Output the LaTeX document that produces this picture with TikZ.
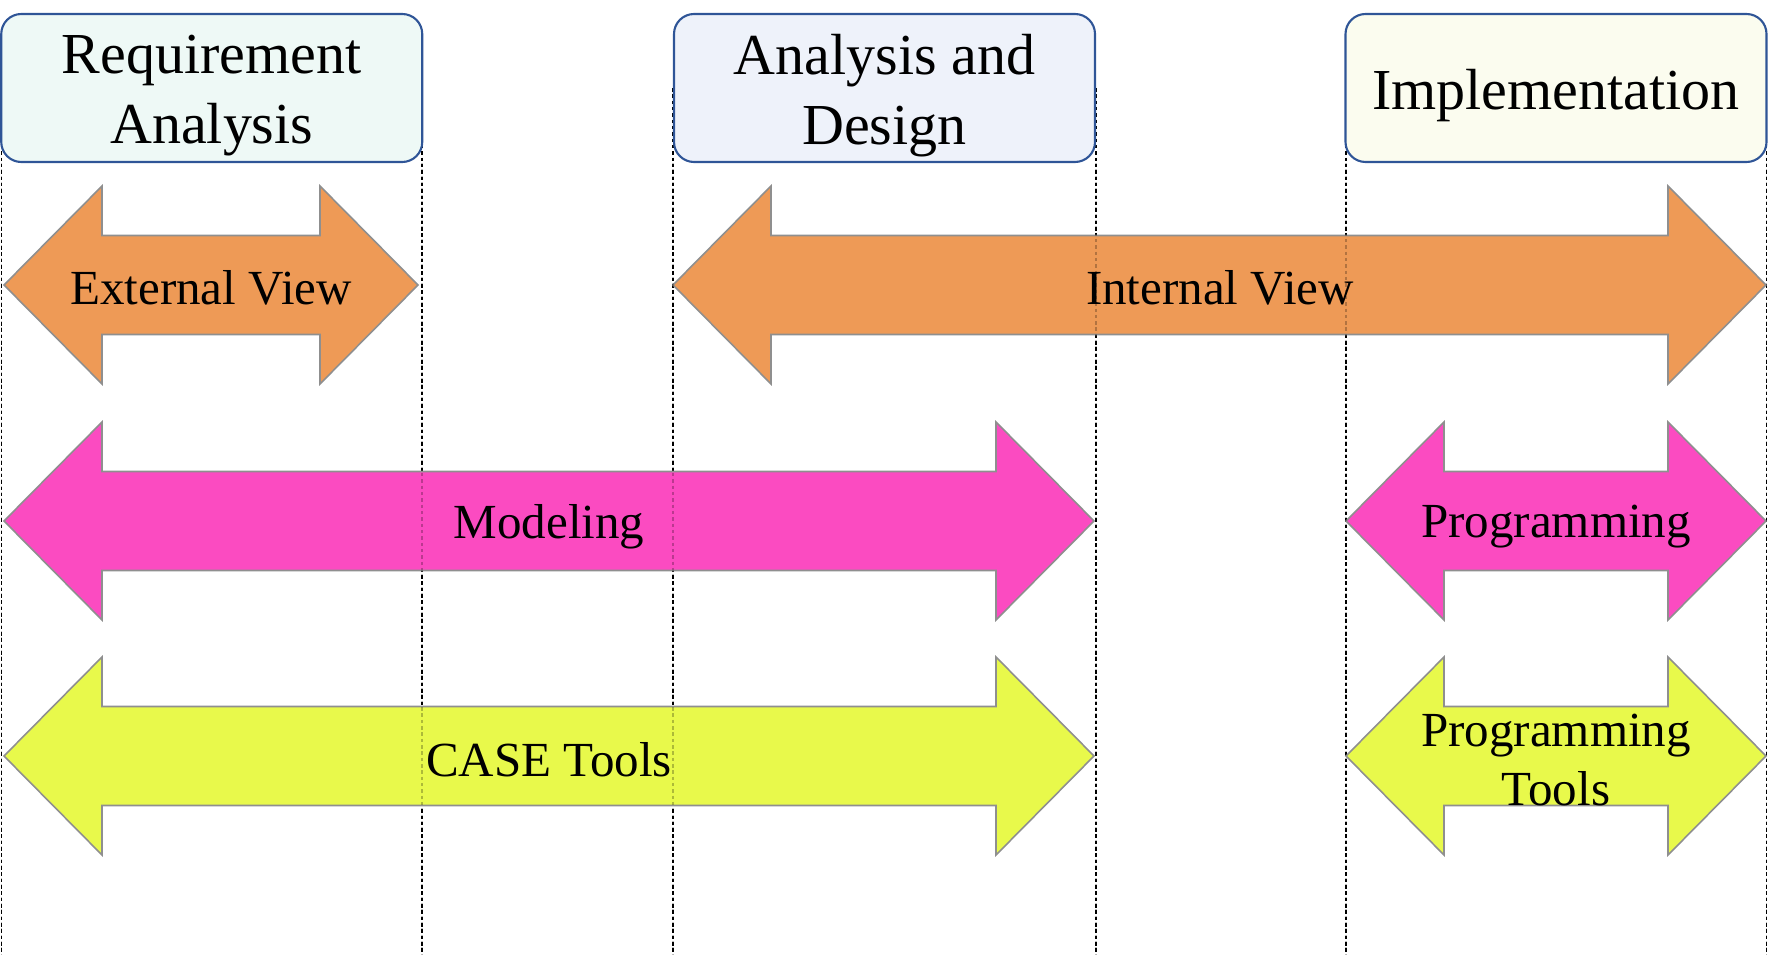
\documentclass[tikz,border=0pt]{standalone}
\usepackage{fontspec}
\setmainfont{Liberation Serif}
\definecolor{boxline}{HTML}{2F5597}
\definecolor{fillreq}{HTML}{EEF9F6}
\definecolor{fillana}{HTML}{EEF2FA}
\definecolor{fillimp}{HTML}{FBFCEF}
\definecolor{arrorange}{HTML}{EE9A56}
\definecolor{arrmagenta}{HTML}{FB4BC1}
\definecolor{arryellow}{HTML}{E8F94B}
\definecolor{arrline}{HTML}{8F8F8F}
\tikzset{
  phasebox/.style={draw=boxline, line width=0.6pt, rounded corners=2mm, minimum width=42.1mm, minimum height=14.8mm, inner sep=0pt},
  phasetext/.style={align=center, inner sep=0pt, font=\fontsize{16.5}{19.9}\selectfont},
  arrowbody/.style={draw=arrline, line width=0.45pt},
  arrlabel/.style={align=center, inner sep=0pt, font=\fontsize{13.95}{17}\selectfont},
  guide/.style={line width=0.3pt, dash pattern=on 1pt off 0.8pt},
}
\newcommand\DblArr[4]{%
  \filldraw[arrowbody, fill=#4] (#1,#3) -- ({#1+98},{#3-99}) -- ({#1+98},{#3-49.5}) -- ({#2-98},{#3-49.5}) -- ({#2-98},{#3-99}) -- (#2,#3) -- ({#2-98},{#3+99}) -- ({#2-98},{#3+49.5}) -- ({#1+98},{#3+49.5}) -- ({#1+98},{#3+99}) -- cycle;}
\begin{document}
\begin{tikzpicture}[x=0.1mm, y=-0.1mm]
\useasboundingbox (0,0) rectangle (1777,955);
% guide lines
\foreach \gx in {1.5,422,673,1096,1346,1766}
  \draw[guide] (\gx,88) -- (\gx,955);
% phase boxes
\node[phasebox, fill=fillreq] (req) at (211.75,88) {};
\node[phasebox, fill=fillana] (ana) at (884.5,88) {};
\node[phasebox, fill=fillimp] (imp) at (1556,88) {};
\node[phasetext] (reqt) at ([yshift=-0.75mm]req.center) {Requirement\\Analysis};
\node[phasetext] (anat) at ([yshift=-0.75mm]ana.center) {Analysis and\\Design};
\node[phasetext] (impt) at ([yshift=-0.8mm]imp.center) {Implementation};
% arrows
\DblArr{4}{418}{285}{arrorange}
\DblArr{673}{1766}{285}{arrorange}
\DblArr{4}{1094}{521}{arrmagenta}
\DblArr{1346}{1766}{521}{arrmagenta}
\DblArr{4}{1094}{756}{arryellow}
\DblArr{1346}{1766}{756}{arryellow}
% faint guide lines over arrows
\foreach \gx in {1.5,422,673,1096,1346,1766}
  \draw[guide, draw opacity=0.25] (\gx,163) -- (\gx,955);
% labels
\node[arrlabel] (ext) at (211,288) {External View};
\node[arrlabel] (int) at (1220,288) {Internal View};
\node[arrlabel] (mod) at (549,527) {Modeling};
\node[arrlabel] (prog) at (1556,527) {Programming};
\node[arrlabel] (case) at (549,760) {CASE Tools};
\node[arrlabel] (ptools) at (1556,760) {Programming\\Tools};
\end{tikzpicture}
\end{document}
